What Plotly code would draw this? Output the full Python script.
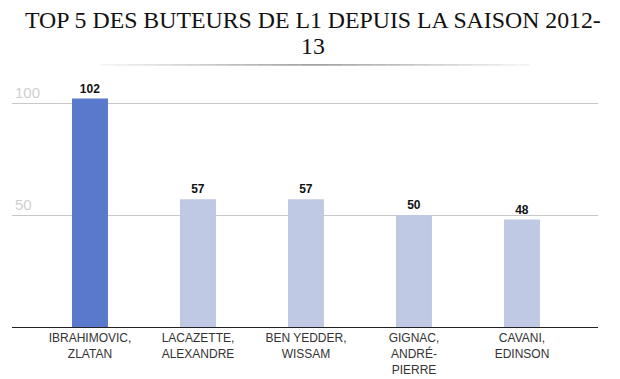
import plotly.graph_objects as go

players = ["IBRAHIMOVIC,<br>ZLATAN", "LACAZETTE,<br>ALEXANDRE", "BEN YEDDER,<br>WISSAM",
           "GIGNAC,<br>ANDRÉ-<br>PIERRE", "CAVANI,<br>EDINSON"]
goals = [102, 57, 57, 50, 48]
bar_colors = ["#5879cc", "#bfc9e3", "#bfc9e3", "#bfc9e3", "#bfc9e3"]
y_ticks = [50, 100]
title_lines = ["TOP 5 DES BUTEURS DE L1 DEPUIS LA SAISON 2012-", "13"]

x_pos = list(range(len(players)))

fig = go.Figure()
fig.add_trace(go.Bar(
    x=x_pos, y=goals, width=0.333,
    marker=dict(color=bar_colors, line=dict(width=0)),
    text=[f"<b>{g}</b>" for g in goals], textposition="outside",
    textfont=dict(family="Liberation Sans, Arial", size=12, color="#111"),
    cliponaxis=False,
))

# decorative underline under the title (gradient approximated)
n = 30
x0, x1 = 0.15, 0.884
for k in range(n):
    t = (k + 0.5) / n
    d = 1 - abs(t - 0.5) * 2
    g = int(240 - 150 * d)
    fig.add_shape(type="line", xref="paper", yref="paper",
                  x0=x0 + (x1 - x0) * k / n, x1=x0 + (x1 - x0) * (k + 1) / n,
                  y0=1.061, y1=1.061,
                  line=dict(color=f"rgb({g},{g},{g})", width=1))

for line_text, ypos in zip(title_lines, [1.243, 1.138]):
    fig.add_annotation(text=line_text, xref="paper", yref="paper", x=0.514, y=ypos,
                       xanchor="center", yanchor="middle", showarrow=False, align="center",
                       font=dict(family="Liberation Serif, Times New Roman", size=23.8, color="#111"))

fig.update_layout(
    width=612, height=371,
    margin=dict(l=4, r=22, t=72, b=52),
    paper_bgcolor="white", plot_bgcolor="white",
    showlegend=False,
    xaxis=dict(range=[-0.722, 4.704], tickvals=x_pos, ticktext=players,
               showgrid=False, zeroline=False, showline=True, linecolor="#222", linewidth=1,
               ticks="", automargin=False,
               tickfont=dict(family="Liberation Sans, Arial", size=12, color="#333"),
               fixedrange=True),
    yaxis=dict(range=[0, 110.3], tickvals=y_ticks, ticktext=[str(v) for v in y_ticks],
               showgrid=True, gridcolor="#c8c8c8", gridwidth=1, zeroline=False, showline=False,
               ticklabelposition="inside top", automargin=False,
               tickfont=dict(family="Liberation Sans, Arial", size=15, color="#d0d0d0"),
               fixedrange=True),
)

fig.write_html("out.html")
